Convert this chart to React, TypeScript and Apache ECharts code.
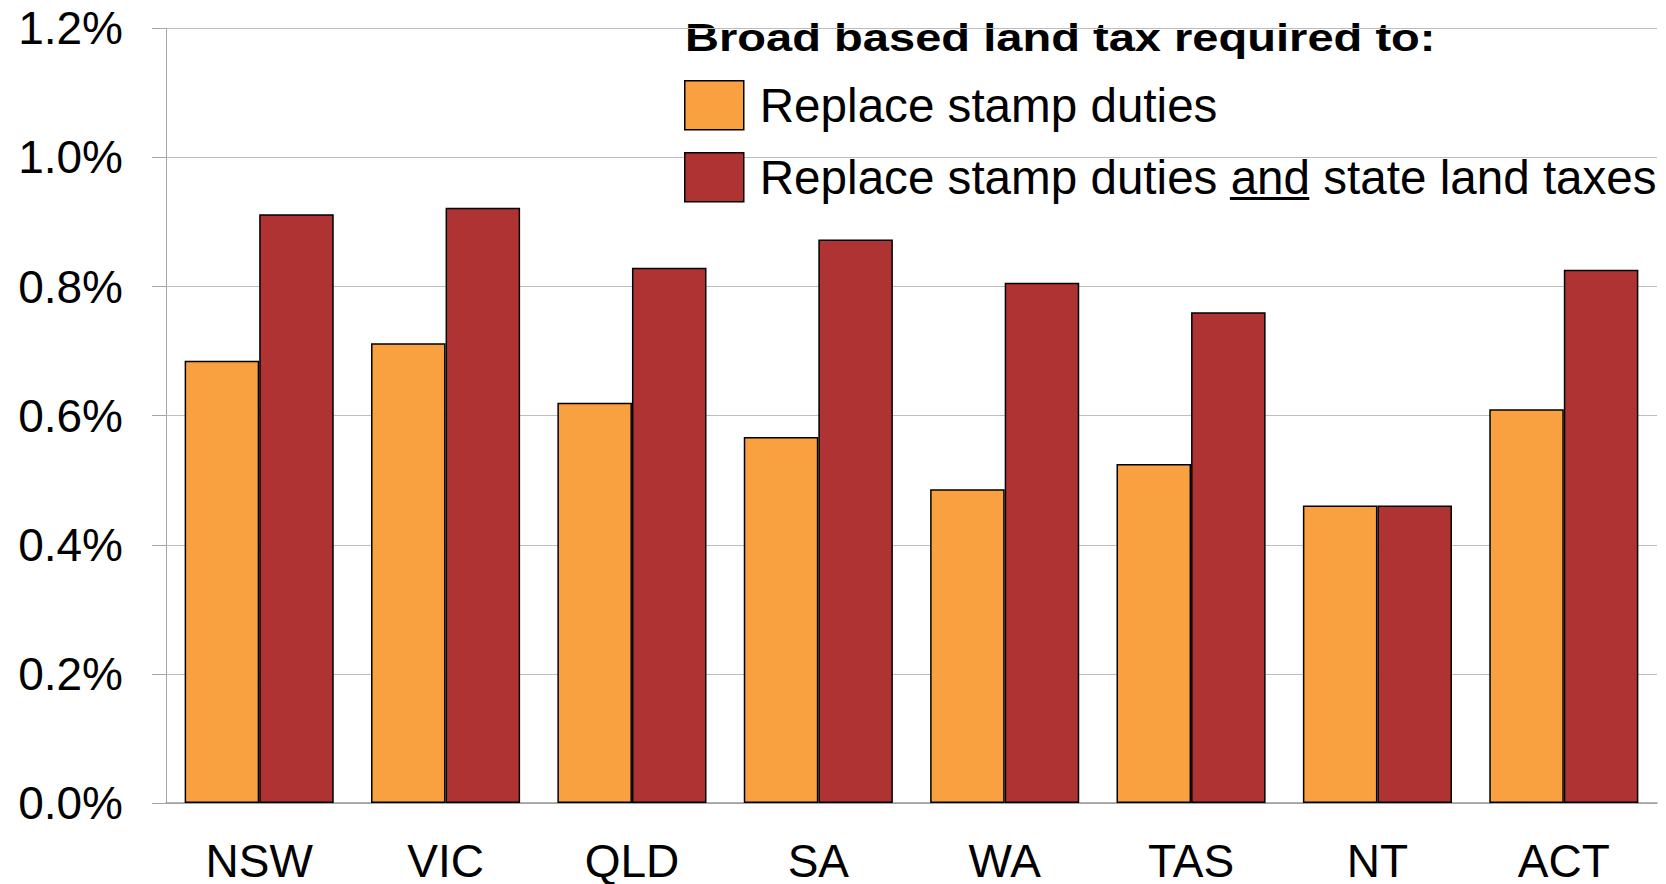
import React, { useEffect, useRef } from "react";
import * as echarts from "echarts";

const categories = ["NSW", "VIC", "QLD", "SA", "WA", "TAS", "NT", "ACT"];
const replaceStampDuties = [0.685, 0.712, 0.62, 0.567, 0.486, 0.525, 0.461, 0.61];
const replaceStampAndLandTaxes = [0.912, 0.922, 0.829, 0.873, 0.806, 0.76, 0.461, 0.826];
const yMin = 0;
const yMax = 1.2;
const yInterval = 0.2;

const seriesNames = ["Replace stamp duties", "Replace stamp duties and state land taxes"];
const titleText = "Broad based land tax required to:";

const FONT = '"Liberation Sans", Arial, Helvetica, sans-serif';

export default function App() {
  const ref = useRef<HTMLDivElement>(null);

  useEffect(() => {
    if (!ref.current) return;
    const chart = echarts.init(ref.current, undefined, { renderer: "svg" });

    const legendLeft = 684;
    const legendTop = 80;
    const itemW = 59;
    const itemH = 49;
    const itemGap = 21.5;
    const textPadLeft = 11;
    const legendFont = 47.6;
    const titleFont = 39.5;

    const canvas = document.createElement("canvas");
    const ctx = canvas.getContext("2d")!;
    ctx.font = `${legendFont}px ${FONT}`;
    const preW = ctx.measureText("Replace stamp duties ").width;
    const andW = ctx.measureText("and").width;
    ctx.font = `bold ${titleFont}px ${FONT}`;
    const titleW = ctx.measureText(titleText).width || 1;
    const titleScaleX = 751 / titleW;

    const textX0 = legendLeft + itemW + 5 + textPadLeft;
    const row2Center = legendTop + itemH + itemGap + itemH / 2;
    const underlineY = row2Center + (legendFont * 0.716) / 2 + 6.5;

    chart.setOption({
      animation: false,
      backgroundColor: "#ffffff",
      textStyle: { fontFamily: FONT },
      legend: {
        orient: "vertical",
        left: legendLeft,
        top: legendTop,
        padding: 0,
        itemWidth: itemW,
        itemHeight: itemH,
        itemGap: itemGap,
        selectedMode: false,
        icon: "rect",
        itemStyle: { borderColor: "#000", borderWidth: 1.5 },
        textStyle: {
          fontFamily: FONT,
          fontSize: legendFont,
          color: "#000",
          padding: [0, 0, 0, textPadLeft],
        },
        data: seriesNames,
      },
      grid: { left: 166, right: 9, top: 28.3, height: 777.4, containLabel: false },
      xAxis: {
        type: "category",
        data: categories,
        axisLine: { lineStyle: { color: "#9a9a9a", width: 1.5 } },
        axisTick: { length: 14, lineStyle: { color: "#9a9a9a", width: 1.5 } },
        axisLabel: { fontFamily: FONT, fontSize: 46, color: "#000", margin: 35 },
        splitLine: { show: false },
      },
      yAxis: {
        type: "value",
        min: yMin,
        max: yMax,
        interval: yInterval,
        axisLine: { show: true, lineStyle: { color: "#a6a6a6", width: 1 } },
        axisTick: { show: true, length: 14, lineStyle: { color: "#a6a6a6", width: 1 } },
        axisLabel: {
          fontFamily: FONT,
          fontSize: 46,
          color: "#000",
          margin: 43,
          padding: [8, 0, 0, 0],
          formatter: (v: number) => v.toFixed(1) + "%",
        },
        splitLine: { show: true, lineStyle: { color: "#bdbdbd", width: 1.2 } },
      },
      series: [
        {
          name: seriesNames[0],
          type: "bar",
          data: replaceStampDuties,
          barGap: "0%",
          barCategoryGap: "20%",
          itemStyle: { color: "#F9A040", borderColor: "#000", borderWidth: 1.5 },
        },
        {
          name: seriesNames[1],
          type: "bar",
          data: replaceStampAndLandTaxes,
          barGap: "0%",
          barCategoryGap: "20%",
          itemStyle: { color: "#B03333", borderColor: "#000", borderWidth: 1.5 },
        },
      ],
      graphic: [
        {
          type: "text",
          x: 685,
          y: 37.3,
          scaleX: titleScaleX,
          silent: true,
          style: {
            text: titleText,
            x: 0,
            y: 0,
            fontFamily: FONT,
            fontSize: titleFont,
            fontWeight: "bold",
            fill: "#000",
            align: "left",
            verticalAlign: "middle",
          },
        },
        {
          type: "line",
          shape: { x1: textX0 + preW, y1: underlineY, x2: textX0 + preW + andW, y2: underlineY },
          style: { stroke: "#000", lineWidth: 3 },
          silent: true,
        },
      ],
    });

    return () => chart.dispose();
  }, []);

  return (
    <div
      ref={ref}
      style={{ position: "fixed", left: 0, top: 0, width: 1666, height: 884, background: "#fff" }}
    />
  );
}
